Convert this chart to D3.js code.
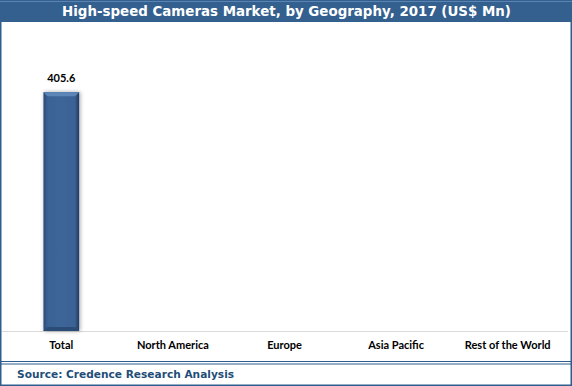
<!DOCTYPE html>
<html><head><meta charset="utf-8">
<script src="https://cdn.jsdelivr.net/npm/d3@7"></script>
<style>html,body{margin:0;padding:0;background:#fff;}svg{display:block;}</style>
</head><body>
<script>
const categories = ["Total", "North America", "Europe", "Asia Pacific", "Rest of the World"];
const values = [405.6, null, null, null, null];
const title = "High-speed Cameras Market, by Geography, 2017 (US$ Mn)";
const source = "Source: Credence Research Analysis";

const W = 572, H = 386;
const svg = d3.select("body").append("svg").attr("width", W).attr("height", H);

const defs = svg.append("defs");
const gH = defs.append("linearGradient").attr("id", "gH").attr("x1", 0).attr("x2", 1).attr("y1", 0).attr("y2", 0);
gH.append("stop").attr("offset", "0%").attr("stop-color", "#2a4a75");
gH.append("stop").attr("offset", "12%").attr("stop-color", "#3a6294");
gH.append("stop").attr("offset", "50%").attr("stop-color", "#3e6698");
gH.append("stop").attr("offset", "88%").attr("stop-color", "#3a6294");
gH.append("stop").attr("offset", "100%").attr("stop-color", "#1f3a5e");
const shadow = defs.append("filter").attr("id", "sh").attr("x", "-30%").attr("width", "160%");
shadow.append("feGaussianBlur").attr("in", "SourceAlpha").attr("stdDeviation", 2);
shadow.append("feOffset").attr("dx", 1).attr("dy", 0).attr("result", "b");
shadow.append("feComponentTransfer").append("feFuncA").attr("type", "linear").attr("slope", 0.35);
const fm = shadow.append("feMerge");
fm.append("feMergeNode"); fm.append("feMergeNode").attr("in", "SourceGraphic");

// frame
svg.append("rect").attr("x", 0.75).attr("y", 0.75).attr("width", W - 1.5).attr("height", H - 1.5)
  .attr("fill", "#fff").attr("stroke", "#2f5d8e").attr("stroke-width", 1.5);
// title bar
svg.append("rect").attr("x", 0).attr("y", 0).attr("width", W).attr("height", 22).attr("fill", "#34608f");
svg.append("line").attr("x1", 0).attr("x2", W).attr("y1", 1.5).attr("y2", 1.5).attr("stroke", "#5b84b2").attr("stroke-width", 1);
svg.append("text").attr("x", W / 2 + 0.5).attr("y", 16).attr("text-anchor", "middle")
  .attr("font-family", "Verdana, 'DejaVu Sans', sans-serif").attr("font-weight", "bold")
  .attr("font-size", 13.4).attr("fill", "#fff").text(title);

// footer
svg.append("line").attr("x1", 0).attr("x2", W).attr("y1", 361.5).attr("y2", 361.5).attr("stroke", "#2f5d8e").attr("stroke-width", 1.2);
svg.append("line").attr("x1", 0).attr("x2", W).attr("y1", 364).attr("y2", 364).attr("stroke", "#2f5d8e").attr("stroke-width", 1);
svg.append("text").attr("x", 17).attr("y", 377.5)
  .attr("font-family", "Verdana, 'DejaVu Sans', sans-serif").attr("font-weight", "bold")
  .attr("font-size", 10.6).attr("fill", "#1f4e79").text(source);

// scales
const x = d3.scaleBand().domain(categories).range([5.5, 563.5]).paddingInner(0.68).paddingOuter(0.34);
const y = d3.scaleLinear().domain([0, 450]).range([331, 66]);

// axis
const xAxis = d3.axisBottom(x).tickSize(0).tickPadding(10);
const ax = svg.append("g").attr("transform", "translate(0,331)").call(xAxis);
ax.select(".domain").attr("stroke", "#d9d9d9").attr("d", "M2,0.5H568");
ax.selectAll("text").attr("font-family", "Lato, 'Open Sans', sans-serif").attr("font-weight", "bold")
  .attr("font-size", 11).attr("fill", "#000");

// bars
const data = categories.map((c, i) => ({ c, v: values[i] })).filter(d => d.v != null);
const bars = svg.append("g").selectAll("g").data(data).join("g");
bars.append("rect").attr("x", d => x(d.c)).attr("y", d => y(d.v)).attr("width", x.bandwidth())
  .attr("height", d => y(0) - y(d.v)).attr("fill", "url(#gH)").attr("filter", "url(#sh)");
// bevel top
bars.append("path").attr("d", d => {
  const x0 = x(d.c), x1 = x0 + x.bandwidth(), t = y(d.v), b = 4;
  return `M${x0},${t}H${x1}L${x1 - b},${t + b}H${x0 + b}Z`;
}).attr("fill", "#5d86b8");
// bevel bottom
bars.append("path").attr("d", d => {
  const x0 = x(d.c), x1 = x0 + x.bandwidth(), bt = y(0), b = 4;
  return `M${x0},${bt}H${x1}L${x1 - b},${bt - b}H${x0 + b}Z`;
}).attr("fill", "#2c4c78");
// labels
bars.append("text").attr("x", d => x(d.c) + x.bandwidth() / 2).attr("y", d => y(d.v) - 10)
  .attr("text-anchor", "middle").attr("font-family", "Lato, 'Open Sans', sans-serif").attr("font-weight", "bold")
  .attr("font-size", 11).attr("fill", "#000").text(d => d.v);
</script>
</body></html>
